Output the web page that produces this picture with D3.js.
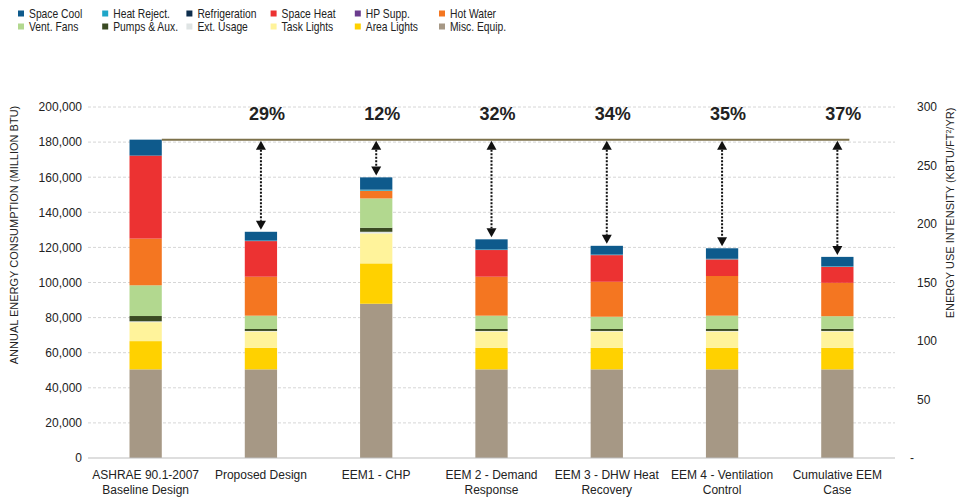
<!DOCTYPE html>
<html>
<head>
<meta charset="utf-8">
<script src="https://cdn.jsdelivr.net/npm/d3@7/dist/d3.min.js"></script>
<style>
  html, body { margin: 0; padding: 0; background: #fff; }
  svg { display: block; }
  text { font-family: "Liberation Sans Narrow", "Liberation Sans", Arial, sans-serif; fill: #222; }
</style>
</head>
<body>
<svg id="chart" width="958" height="502"></svg>
<script>
// Scenario names (two-line labels)
const categories = [
  ["ASHRAE 90.1-2007", "Baseline Design"],
  ["Proposed Design"],
  ["EEM1 - CHP"],
  ["EEM 2 - Demand", "Response"],
  ["EEM 3 - DHW Heat", "Recovery"],
  ["EEM 4 - Ventilation", "Control"],
  ["Cumulative EEM", "Case"]
];

// End uses, annual energy consumption (million Btu)
const miscEquip     = [50500, 50500, 87900, 50500, 50500, 50500, 50500];
const areaLights    = [16100, 12300, 23000, 12300, 12300, 12300, 12300];
const taskLights    = [10800,  9300, 17100,  9300,  9300,  9300,  9300];
const extUsage      = [  500,   300,   900,   300,   300,   300,   300];
const pumpsAux      = [ 3000,  1100,  2300,  1100,  1100,  1100,  1200];
const ventFans      = [17500,  7600, 16700,  7600,  7000,  7600,  7200];
const hotWater      = [26600, 22200,  4400, 22200, 19900, 22600, 19000];
const hpSupp        = [    0,     0,     0,     0,     0,     0,     0];
const spaceHeat     = [47300, 20300,     0, 15200, 15200,  9500,  9100];
const refrigeration = [    0,     0,     0,     0,     0,     0,     0];
const heatReject    = [    0,   300,   600,   300,   300,   300,   300];
const spaceCool     = [ 9100,  5000,  7000,  5800,  5000,  6000,  5400];

// Savings relative to the baseline
const savingsLabels = ["", "29%", "12%", "32%", "34%", "35%", "37%"];

// Axis ticks
const leftTicks  = [0, 20000, 40000, 60000, 80000, 100000, 120000, 140000, 160000, 180000, 200000];
const rightTicks = [0, 50, 100, 150, 200, 250, 300];

// Series, stacked bottom to top
const series = [
  { key: "Misc. Equip.",  values: miscEquip,     color: "#a69885" },
  { key: "Area Lights",   values: areaLights,    color: "#ffd100" },
  { key: "Task Lights",   values: taskLights,    color: "#fff39b" },
  { key: "Ext. Usage",    values: extUsage,      color: "#dfe4e4" },
  { key: "Pumps & Aux.",  values: pumpsAux,      color: "#3a4a22" },
  { key: "Vent. Fans",    values: ventFans,      color: "#b2d88f" },
  { key: "Hot Water",     values: hotWater,      color: "#f47621" },
  { key: "HP Supp.",      values: hpSupp,        color: "#6b3c8e" },
  { key: "Space Heat",    values: spaceHeat,     color: "#ec3232" },
  { key: "Refrigeration", values: refrigeration, color: "#0d2d4c" },
  { key: "Heat Reject.",  values: heatReject,    color: "#1ea6c8" },
  { key: "Space Cool",    values: spaceCool,     color: "#0e5a8c" }
];

// Legend order (two rows of six)
const legendOrder = [
  "Space Cool", "Heat Reject.", "Refrigeration", "Space Heat", "HP Supp.", "Hot Water",
  "Vent. Fans", "Pumps & Aux.", "Ext. Usage", "Task Lights", "Area Lights", "Misc. Equip."
];

const svg = d3.select("#chart");
const plot = { left: 88, right: 895, top: 107, bottom: 458 };

const rows = categories.map((c, i) => {
  const r = { name: c.join(" ") };
  series.forEach(s => { r[s.key] = s.values[i]; });
  return r;
});

const x = d3.scaleBand()
  .domain(rows.map(r => r.name))
  .range([plot.left, plot.right])
  .paddingInner(0.72)
  .paddingOuter(0.36);

const y = d3.scaleLinear().domain([0, 200000]).range([plot.bottom, plot.top]);
const yRight = d3.scaleLinear().domain([0, 300]).range([plot.bottom, plot.top]);

// Gridlines
svg.append("g")
  .selectAll("line")
  .data(leftTicks.filter(t => t > 0))
  .join("line")
  .attr("x1", plot.left).attr("x2", plot.right)
  .attr("y1", d => y(d)).attr("y2", d => y(d))
  .attr("stroke", "#d6d6d6")
  .attr("stroke-width", 1)
  .attr("stroke-dasharray", "3,2");

// Left axis
const leftAxis = svg.append("g")
  .attr("transform", `translate(${plot.left},0)`)
  .call(d3.axisLeft(y).tickValues(leftTicks).tickSize(0).tickPadding(6).tickFormat(d3.format(",")));
leftAxis.select(".domain").remove();
leftAxis.selectAll("text").style("font-size", "12px").attr("fill", "#333");

// Right axis
const rightAxis = svg.append("g")
  .attr("transform", `translate(${plot.right},0)`)
  .call(d3.axisRight(yRight).tickValues(rightTicks).tickSize(0).tickPadding(22)
    .tickFormat(d => d === 0 ? "-" : d3.format(",")(d)));
rightAxis.select(".domain").remove();
rightAxis.selectAll("text").style("font-size", "12px").attr("fill", "#333")
  .attr("dx", d => d === 0 ? -7 : 0);

// Stacked bars
const stack = d3.stack().keys(series.map(s => s.key));
const layers = stack(rows);
const colorOf = new Map(series.map(s => [s.key, s.color]));

svg.append("g")
  .selectAll("g")
  .data(layers)
  .join("g")
  .attr("fill", d => colorOf.get(d.key))
  .selectAll("rect")
  .data(d => d)
  .join("rect")
  .attr("x", d => x(d.data.name))
  .attr("width", x.bandwidth())
  .attr("y", d => y(d[1]))
  .attr("height", d => Math.max(0, y(d[0]) - y(d[1])));

// Zero line
svg.append("line")
  .attr("x1", plot.left).attr("x2", plot.right)
  .attr("y1", y(0)).attr("y2", y(0))
  .attr("stroke", "#bdbdbd").attr("stroke-width", 1);

// Baseline reference line
const totals = rows.map(r => series.reduce((a, s) => a + r[s.key], 0));
const baseY = y(totals[0]);
const lastName = rows[rows.length - 1].name;
svg.append("line")
  .attr("x1", x(rows[0].name) + x.bandwidth())
  .attr("x2", x(lastName) + x.bandwidth() / 2 + 12)
  .attr("y1", baseY).attr("y2", baseY)
  .attr("stroke", "#7c714a").attr("stroke-width", 2);

// Savings arrows and labels
const arrows = svg.append("g");
rows.forEach((r, i) => {
  if (i === 0) return;
  const cx = x(r.name) + x.bandwidth() / 2;
  const topY = baseY + 1;
  const botY = y(totals[i]) - 2;
  const h = 9, w = 5;
  arrows.append("line")
    .attr("x1", cx).attr("x2", cx)
    .attr("y1", topY + h).attr("y2", botY - h)
    .attr("stroke", "#111").attr("stroke-width", 2)
    .attr("stroke-dasharray", "2,1.5");
  arrows.append("path")
    .attr("d", `M${cx},${topY}L${cx - w},${topY + h}L${cx + w},${topY + h}Z`)
    .attr("fill", "#111");
  arrows.append("path")
    .attr("d", `M${cx},${botY}L${cx - w},${botY - h}L${cx + w},${botY - h}Z`)
    .attr("fill", "#111");
  svg.append("text")
    .attr("x", cx + 6)
    .attr("y", 120)
    .attr("text-anchor", "middle")
    .style("font-family", "'Liberation Sans', Arial, sans-serif")
    .style("font-weight", "bold")
    .style("font-size", "18px")
    .attr("fill", "#111")
    .text(savingsLabels[i]);
});

// Category labels
svg.append("g")
  .selectAll("text")
  .data(categories)
  .join("text")
  .attr("text-anchor", "middle")
  .attr("x", (d, i) => x(rows[i].name) + x.bandwidth() / 2)
  .attr("y", 479)
  .style("font-size", "12px")
  .attr("fill", "#333")
  .selectAll("tspan")
  .data(d => d)
  .join("tspan")
  .attr("x", function () { return this.parentNode.getAttribute("x"); })
  .attr("dy", (d, j) => j === 0 ? 0 : 15)
  .text(d => d);

// Axis titles
svg.append("text")
  .attr("transform", `translate(18,235) rotate(-90)`)
  .attr("text-anchor", "middle")
  .style("font-size", "11px")
  .attr("fill", "#333")
  .text("ANNUAL ENERGY CONSUMPTION (MILLION BTU)");

const rt = svg.append("text")
  .attr("transform", `translate(954,213) rotate(-90)`)
  .attr("text-anchor", "middle")
  .style("font-size", "11px")
  .attr("fill", "#333");
rt.append("tspan").text("ENERGY USE INTENSITY (KBTU/FT");
rt.append("tspan").attr("baseline-shift", "super").style("font-size", "7px").text("2");
rt.append("tspan").text("/YR)");

// Legend: labels set in a condensed width so each fits its slot
const legend = svg.append("g");
legendOrder.forEach((k, i) => {
  const col = i % 6, row = Math.floor(i / 6);
  const gx = 18 + col * 84.2, gy = 14 + row * 13;
  legend.append("rect")
    .attr("x", gx).attr("y", gy - 3.5)
    .attr("width", 6).attr("height", 6)
    .attr("fill", colorOf.get(k));
  legend.append("text")
    .attr("transform", `translate(${gx + 11},${gy + 4}) scale(0.86,1)`)
    .style("font-size", "12px")
    .attr("fill", "#333")
    .text(k);
});
</script>
</body>
</html>
